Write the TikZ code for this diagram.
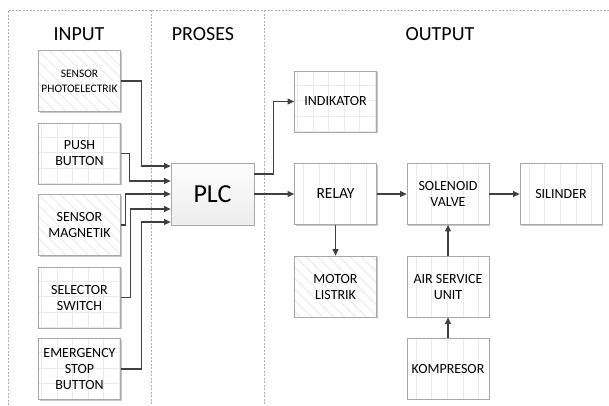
\documentclass[tikz,border=0pt]{standalone}
\usepackage{fontspec}
\setmainfont{Carlito}
\usetikzlibrary{arrows.meta}
\definecolor{boxline}{HTML}{A8A8A8}
\definecolor{patline}{HTML}{EAEAEA}
\definecolor{arrowgray}{HTML}{404040}
\definecolor{framegray}{HTML}{B0B0B0}
\tikzset{
  frame/.style={draw=framegray, line width=0.6pt, dash pattern=on 2pt off 1.5pt},
  title/.style={font=\fontsize{20}{24}\selectfont},
  box/.style={draw=boxline, line width=0.8pt, fill=white, minimum width=82pt, minimum height=61pt,
    align=center, inner sep=1pt, font=\fontsize{14}{16}\selectfont,
    preaction={fill=black!22, transform canvas={xshift=1pt, yshift=-1pt}}},
  hatchbox/.style={box, path picture={
    \foreach \k in {-8,...,8}
      \draw[patline, line width=1pt] ([xshift=\k*11pt]path picture bounding box.north west) -- ++(80pt,-80pt);}},
  gridbox/.style={box, path picture={
    \foreach \k in {0,...,5}
      \draw[patline, line width=1pt] ([xshift=3pt+\k*15.6pt]path picture bounding box.north west) -- ++(0pt,-70pt);
    \foreach \k in {0,...,3}
      \draw[patline, line width=1pt] ([yshift=-14pt-\k*15.5pt]path picture bounding box.north west) -- ++(90pt,0pt);}},
  stripebox/.style={box, path picture={
    \foreach \k in {0,...,4}
      \draw[patline, line width=1pt] ([xshift=9pt+\k*15.7pt]path picture bounding box.north west) -- ++(0pt,-70pt);}},
  plcbox/.style={draw=boxline, line width=0.8pt, top color=gray!2, bottom color=gray!14,
    minimum width=83pt, minimum height=62pt, font=\fontsize{26}{30}\selectfont,
    preaction={fill=black!22, transform canvas={xshift=1pt, yshift=-1pt}}},
  arr/.style={draw=arrowgray, line width=1.1pt, -{Triangle[length=6.5pt, width=6pt]}}
}
\begin{document}
\begin{tikzpicture}[x=1pt, y=-1pt]
  \useasboundingbox (0,0) rectangle (609,405);
  % Frame
  \draw[frame] (8,405) -- (8,10) -- (609,10);
  \draw[frame] (151,10) -- (151,405);
  \draw[frame] (264,10) -- (264,405);

  % Titles
  \node[title] (tinput) at (79,34) {INPUT};
  \node[title] (tproses) at (203,34) {PROSES};
  \node[title] (toutput) at (440,34) {OUTPUT};

  % Nodes
  \node[hatchbox, font=\fontsize{11.5}{15}\selectfont] (photo) at (79.5,81) {SENSOR\\PHOTOELECTRIK};
  \node[gridbox] (push) at (79.5,153.5) {PUSH\\BUTTON};
  \node[hatchbox] (magnet) at (79.5,225) {SENSOR\\MAGNETIK};
  \node[gridbox] (selector) at (79.5,297.5) {SELECTOR\\SWITCH};
  \node[gridbox] (emergency) at (79.5,369) {EMERGENCY\\STOP\\BUTTON};
  \node[plcbox] (plc) at (212.5,194) {PLC};
  \node[gridbox] (indikator) at (335.5,101.5) {INDIKATOR};
  \node[stripebox, font=\fontsize{15.5}{18}\selectfont] (relay) at (335.5,194) {RELAY};
  \node[stripebox] (solenoid) at (448,194) {SOLENOID\\VALVE};
  \node[stripebox] (silinder) at (561,194) {SILINDER};
  \node[hatchbox] (motor) at (335.5,286.5) {MOTOR\\LISTRIK};
  \node[stripebox] (airservice) at (448,286.5) {AIR SERVICE\\UNIT};
  \node[stripebox] (kompresor) at (448,368.5) {KOMPRESOR};

  % Edges
  \draw[arr] (photo.east) -- ++(21,0) |- ([yshift=28pt]plc.west);
  \draw[arr] (push.east) -- ++(9,0) |- ([yshift=13pt]plc.west);
  \draw[arr] (magnet.east) -- ++(5,0) |- (plc.west);
  \draw[arr] (selector.east) -- ++(10,0) |- ([yshift=-15pt]plc.west);
  \draw[arr] (emergency.east) -- ++(21,0) |- ([yshift=-28pt]plc.west);
  \draw[arr] ([yshift=20pt]plc.east) -- ++(19,0) |- (indikator.west);
  \draw[arr] (plc.east) -- (relay.west);
  \draw[arr] (relay.east) -- (solenoid.west);
  \draw[arr] (solenoid.east) -- (silinder.west);
  \draw[arr] (relay.south) -- (motor.north);
  \draw[arr] (airservice.north) -- (solenoid.south);
  \draw[arr] (kompresor.north) -- (airservice.south);
\end{tikzpicture}
\end{document}
